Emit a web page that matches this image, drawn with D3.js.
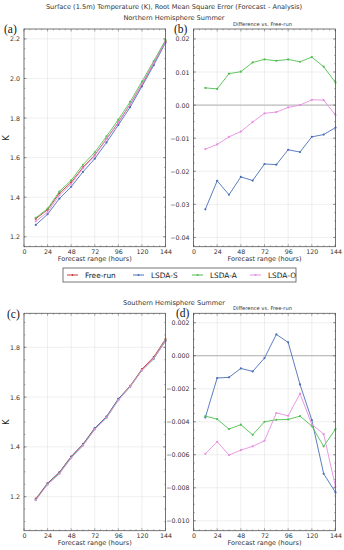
<!DOCTYPE html>
<html><head><meta charset="utf-8">
<script src="https://cdn.jsdelivr.net/npm/d3@7"></script>
<style>body{margin:0;background:#fff}svg{display:block}</style>
</head><body>
<script>
const hours = [12,24,36,48,60,72,84,96,108,120,132,144];
const seriesNames = ["Free-run","LSDA-S","LSDA-A","LSDA-O"];
const colors = ["#c8383a","#4a6fb8","#4fbf4f","#e58ee0"];
const xTicks = [0,24,48,72,96,120,144];

// (a) Northern Hemisphere RMSE
const nhFree = [1.291,1.337,1.420,1.475,1.551,1.613,1.695,1.778,1.869,1.970,2.076,2.187];
const nhS    = [1.260,1.314,1.393,1.453,1.528,1.595,1.677,1.765,1.855,1.960,2.067,2.180];
const nhA    = [1.296,1.342,1.429,1.485,1.564,1.627,1.708,1.792,1.882,1.984,2.088,2.194];
const nhO    = [1.278,1.325,1.410,1.467,1.546,1.610,1.693,1.777,1.869,1.972,2.078,2.184];
// (b) Northern Hemisphere differences vs Free-run
const nhDiffS = [-0.0315,-0.0229,-0.0271,-0.0217,-0.0228,-0.0178,-0.0180,-0.0135,-0.0142,-0.0096,-0.0089,-0.0068];
const nhDiffA = [0.0052,0.0049,0.0095,0.0101,0.0129,0.0138,0.0134,0.0138,0.0131,0.0145,0.0116,0.0068];
const nhDiffO = [-0.0133,-0.0119,-0.0096,-0.0080,-0.0051,-0.0025,-0.0021,-0.0007,0.0000,0.0016,0.0015,-0.0030];
// (c) Southern Hemisphere RMSE
const shFree = [1.192,1.254,1.298,1.361,1.411,1.475,1.521,1.592,1.645,1.712,1.761,1.833];
const shS    = [1.188,1.253,1.297,1.360,1.410,1.475,1.522,1.593,1.643,1.708,1.754,1.825];
const shA    = [1.188,1.250,1.294,1.357,1.406,1.471,1.517,1.588,1.641,1.708,1.755,1.829];
const shO    = [1.186,1.249,1.292,1.355,1.406,1.470,1.518,1.588,1.643,1.708,1.756,1.825];
// (d) Southern Hemisphere differences vs Free-run
const shDiffS = [-0.00374,-0.00135,-0.00131,-0.00077,-0.00095,-0.00014,0.00129,0.00081,-0.00174,-0.00390,-0.00715,-0.00828];
const shDiffA = [-0.00366,-0.00384,-0.00444,-0.00418,-0.00479,-0.00400,-0.00388,-0.00386,-0.00366,-0.00426,-0.00549,-0.00444];
const shDiffO = [-0.00594,-0.00521,-0.00602,-0.00572,-0.00549,-0.00515,-0.00347,-0.00364,-0.00230,-0.00416,-0.00475,-0.00794];

const yTicksA = [1.2,1.4,1.6,1.8,2.0,2.2];
const yTicksB = [-0.04,-0.03,-0.02,-0.01,0.00,0.01,0.02];
const yTicksC = [1.2,1.4,1.6,1.8];
const yTicksD = [-0.010,-0.008,-0.006,-0.004,-0.002,0.000,0.002];

const W=344,H=550;
const svg = d3.select("body").append("svg").attr("width",W).attr("height",H);
const FONT = "DejaVu Sans, sans-serif";
const fmtMinus = (s)=>s.replace("-","\u2212");

function panel(opt){
  const x = d3.scaleLinear().domain([0,144]).range([opt.x0,opt.x1]);
  const y = d3.scaleLinear().domain(opt.ydom).range([opt.y1,opt.y0]);
  const g = svg.append("g");
  g.selectAll(".gx").data(xTicks).join("line")
    .attr("x1",d=>x(d)).attr("x2",d=>x(d)).attr("y1",opt.y0).attr("y2",opt.y1)
    .attr("stroke","#e4e4e4").attr("stroke-width",0.6);
  g.selectAll(".gy").data(opt.yticks).join("line")
    .attr("x1",opt.x0).attr("x2",opt.x1).attr("y1",d=>y(d)).attr("y2",d=>y(d))
    .attr("stroke","#e4e4e4").attr("stroke-width",0.6);
  if(opt.zero){
    g.append("line").attr("x1",opt.x0).attr("x2",opt.x1).attr("y1",y(0)).attr("y2",y(0))
      .attr("stroke","#b0b0b0").attr("stroke-width",1);
  }
  const line = d3.line().x((d,i)=>x(hours[i])).y(d=>y(d));
  opt.series.forEach(s=>{
    g.append("path").datum(s.values).attr("d",line).attr("fill","none")
      .attr("stroke",s.color).attr("stroke-width",0.9);
    g.selectAll(null).data(s.values).join("circle")
      .attr("cx",(d,i)=>x(hours[i])).attr("cy",d=>y(d)).attr("r",1.1).attr("fill",s.color);
  });
  g.append("rect").attr("x",opt.x0).attr("y",opt.y0).attr("width",opt.x1-opt.x0).attr("height",opt.y1-opt.y0)
    .attr("fill","none").attr("stroke","#555").attr("stroke-width",0.8);
  const axB = d3.axisBottom(x).tickValues(xTicks).tickSize(0).tickPadding(3).tickFormat(d3.format("d"));
  const gb = g.append("g").attr("transform",`translate(0,${opt.y1})`).call(axB);
  gb.select(".domain").remove();
  gb.selectAll("text").attr("font-family",FONT).attr("font-size",6.3).attr("fill","#333");
  const minorX = d3.range(0,145,6);
  [opt.y0,opt.y1].forEach((yy,k)=>{
    g.selectAll(null).data(minorX).join("line")
      .attr("x1",d=>x(d)).attr("x2",d=>x(d))
      .attr("y1",yy).attr("y2",d=> yy + (k===0?1:-1)*(d%24===0?2.5:1.3))
      .attr("stroke","#555").attr("stroke-width",0.5);
  });
  const axL = d3.axisLeft(y).tickValues(opt.yticks).tickSize(0).tickPadding(4)
    .tickFormat(d=>fmtMinus(d3.format(opt.yfmt)(d)));
  const gl = g.append("g").attr("transform",`translate(${opt.x0},0)`).call(axL);
  gl.select(".domain").remove();
  gl.selectAll("text").attr("font-family",FONT).attr("font-size",6.3).attr("fill","#333");
  const step = opt.yticks[1]-opt.yticks[0];
  const minorY = d3.range(-40,41).map(k=>opt.yticks[0]+k*step/4)
    .filter(v=>v>=opt.ydom[0]&&v<=opt.ydom[1]);
  [opt.x0,opt.x1].forEach((xx,k)=>{
    g.selectAll(null).data(minorY).join("line")
      .attr("y1",d=>y(d)).attr("y2",d=>y(d))
      .attr("x1",xx).attr("x2",()=> xx + (k===0?1:-1)*1.3)
      .attr("stroke","#555").attr("stroke-width",0.5);
  });
  opt.yticks.forEach(t=>{
    [opt.x0,opt.x1].forEach((xx,k)=>{
      g.append("line").attr("x1",xx).attr("x2",xx+(k===0?1:-1)*2.5).attr("y1",y(t)).attr("y2",y(t))
        .attr("stroke","#555").attr("stroke-width",0.5);
    });
  });
  g.append("text").attr("x",(opt.x0+opt.x1)/2).attr("y",opt.y1+14.5).attr("text-anchor","middle")
    .attr("font-family",FONT).attr("font-size",6.5).attr("fill","#333").text("Forecast range (hours)");
  if(opt.ylabel){
    g.append("text").attr("transform",`translate(${opt.x0-15},${(opt.y0+opt.y1)/2}) rotate(-90)`)
      .attr("text-anchor","middle").attr("font-family",FONT).attr("font-size",8).attr("fill","#222").text("K");
  }
  if(opt.subtitle){
    g.append("text").attr("x",(opt.x0+opt.x1)/2 - 2).attr("y",opt.y0-3).attr("text-anchor","middle")
      .attr("font-family",FONT).attr("font-size",5.2).attr("fill","#333").text(opt.subtitle);
  }
  g.append("text").attr("x",opt.labx).attr("y",opt.laby).attr("font-family","Liberation Serif, DejaVu Serif, serif")
    .attr("font-size",11.5).attr("fill","#111").text(opt.label);
}

const mk = (vals)=>vals.map((v,i)=>({values:v,color:colors[i]}));

panel({x0:24,x1:165.5,y0:29,y1:246.7,ydom:[1.15,2.25],yticks:yTicksA,yfmt:".1f",
  series:mk([nhFree,nhS,nhA,nhO]),ylabel:true,label:"(a)",labx:4,laby:32.5});
panel({x0:193.5,x1:335.5,y0:29,y1:246.7,ydom:[-0.0428,0.0230],yticks:yTicksB,yfmt:".2f",zero:true,
  series:[{values:nhDiffS,color:colors[1]},{values:nhDiffA,color:colors[2]},{values:nhDiffO,color:colors[3]}],
  subtitle:"Difference vs. Free-run",label:"(b)",labx:174,laby:32.5});
panel({x0:24,x1:165.5,y0:313.3,y1:530.7,ydom:[1.0634,1.9366],yticks:yTicksC,yfmt:".1f",
  series:mk([shFree,shS,shA,shO]),ylabel:true,label:"(c)",labx:7,laby:318});
panel({x0:193.5,x1:335.5,y0:313.3,y1:530.7,ydom:[-0.0106,0.00257],yticks:yTicksD,yfmt:".3f",zero:true,
  series:[{values:shDiffS,color:colors[1]},{values:shDiffA,color:colors[2]},{values:shDiffO,color:colors[3]}],
  subtitle:"Difference vs. Free-run",label:"(d)",labx:176,laby:316.5});

svg.append("text").attr("x",174).attr("y",8.5).attr("text-anchor","middle").attr("font-family",FONT)
  .attr("font-size",6.6).attr("fill","#333").text("Surface (1.5m) Temperature (K), Root Mean Square Error (Forecast - Analysis)");
svg.append("text").attr("x",174).attr("y",20.3).attr("text-anchor","middle").attr("font-family",FONT)
  .attr("font-size",6.6).attr("fill","#333").text("Northern Hemisphere Summer");
svg.append("text").attr("x",174).attr("y",304.5).attr("text-anchor","middle").attr("font-family",FONT)
  .attr("font-size",6.6).attr("fill","#333").text("Southern Hemisphere Summer");

const lg = svg.append("g");
lg.append("rect").attr("x",63).attr("y",268).attr("width",233).attr("height",14)
  .attr("fill","#fff").attr("stroke","#555").attr("stroke-width",0.8);
const legX = [67,133,192,250];
seriesNames.forEach((n,i)=>{
  lg.append("line").attr("x1",legX[i]).attr("x2",legX[i]+11).attr("y1",275).attr("y2",275)
    .attr("stroke",colors[i]).attr("stroke-width",1);
  lg.append("circle").attr("cx",legX[i]+5.5).attr("cy",275).attr("r",0.9).attr("fill",colors[i]);
  lg.append("text").attr("x",legX[i]+18).attr("y",277.6).attr("font-family",FONT).attr("font-size",7.4)
    .attr("fill","#222").text(n);
});
</script>
</body></html>
